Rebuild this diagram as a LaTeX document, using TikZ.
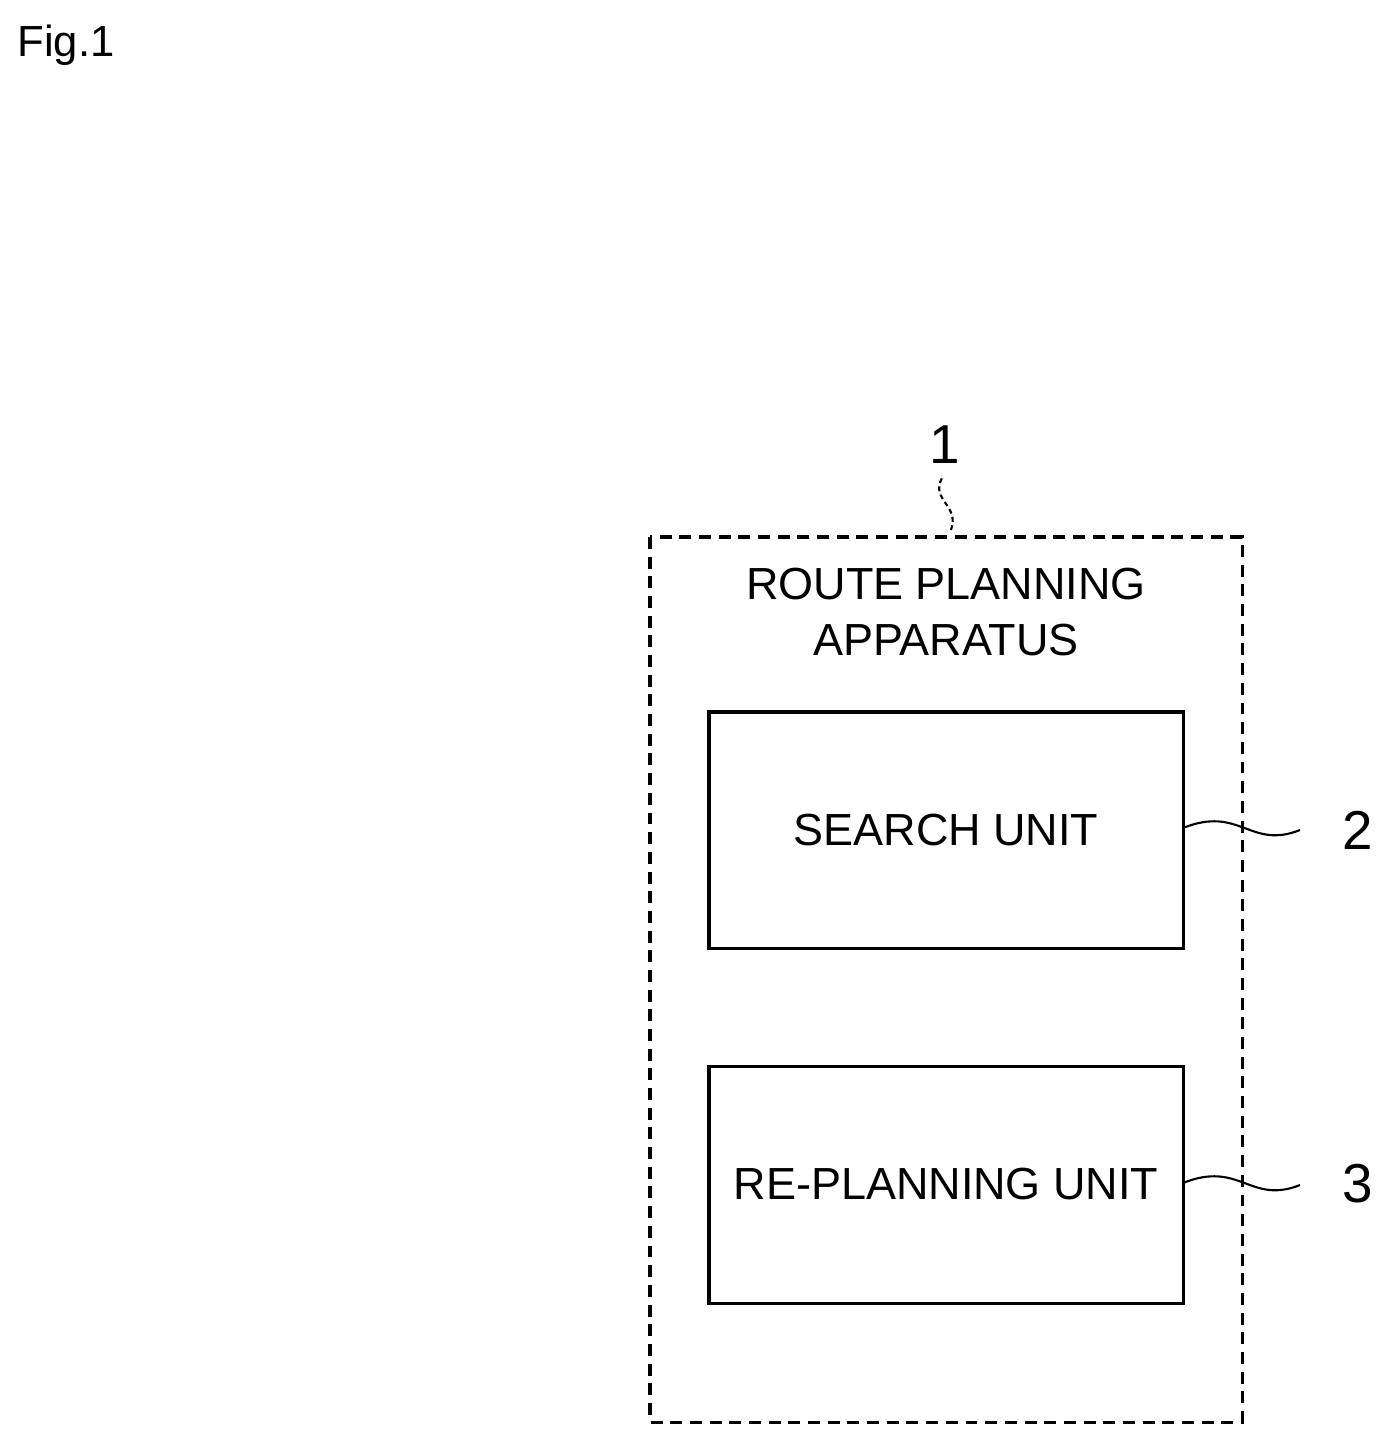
\documentclass[tikz,border=0pt]{standalone}
\usepackage{fontspec}
\setmainfont{Liberation Sans}
\begin{document}
\begin{tikzpicture}[x=0.05cm,y=-0.05cm,
  box/.style={draw,line width=4.3pt},
  lbl/.style={font=\fontsize{64}{80}\selectfont,align=center},
  num/.style={font=\fontsize{78}{90}\selectfont},
  lead/.style={line width=3pt}]
\useasboundingbox (0,0) rectangle (1390,1445);
\node[anchor=west,font=\fontsize{62}{70}\selectfont] (fig) at (15,45) {Fig.1};
\draw[box,dash pattern=on 17pt off 11pt] (650,537) rectangle (1242,1422);
\node[lbl] (title) at (946,612) {ROUTE PLANNING\\APPARATUS};
\draw[box] (709,712) rectangle (1183,948);
\node[lbl] (s) at (946,830) {SEARCH UNIT};
\draw[box] (709,1066) rectangle (1183,1303);
\node[lbl] (r) at (946,1184) {RE-PLANNING UNIT};
\node[num] (n1) at (945,445) {1};
\node[num] (n2) at (1358,830) {2};
\node[num] (n3) at (1358,1184) {3};
\coordinate (t1) at (951,530);
\coordinate (t2) at (1183,828);
\coordinate (t3) at (1183,1183);
\draw[lead,dash pattern=on 7pt off 5pt] (t1) .. controls (960,505) and (930,500) .. (942,478);
\draw[lead] (t2) .. controls (1240,805) and (1250,850) .. (1300,830);
\draw[lead] (t3) .. controls (1240,1160) and (1250,1205) .. (1300,1185);
\end{tikzpicture}
\end{document}
